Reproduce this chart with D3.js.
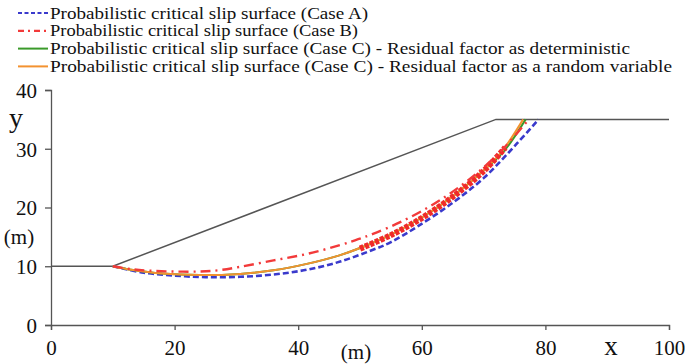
<!DOCTYPE html>
<html>
<head>
<meta charset="utf-8">
<script src="https://cdn.jsdelivr.net/npm/d3@7"></script>
<style>
  body { margin: 0; background: #fff; }
  .serif { font-family: "Times New Roman", Tinos, "Liberation Serif", "DejaVu Serif", serif; }
</style>
</head>
<body>
<div id="chart"></div>
<script>
// slope geometry (x, y in m)
var ground = [[0, 10], [10, 10], [72, 35], [100, 35]];

// critical slip surfaces
var caseA = [[10, 10], [15, 8.9], [20, 8.4], [25, 8.15], [30.6, 8.2], [36, 8.6], [41.4, 9.4], [46.8, 10.8],
             [52.1, 12.8], [55, 14.1], [59.2, 16.7], [64.6, 20.5], [70, 25.0], [75.4, 30.9], [78.9, 35]];
var caseB = [[10, 10], [13, 9.5], [16, 9.25], [20, 9.1], [24, 9.1], [27, 9.3], [30.6, 9.9], [36, 11.0],
             [41.4, 12.1], [46.8, 13.6], [49.7, 14.6], [52.1, 15.5], [56.5, 17.5], [61, 20.0], [65, 22.7],
             [69, 25.9], [73, 29.8], [77.3, 35]];
var caseCdet = [[10, 10], [13, 9.4], [18, 8.75], [24, 8.5], [30.6, 8.7], [36, 9.3], [41.4, 10.4], [46.8, 11.9],
                [50, 13.1], [55, 15.4], [60, 18.3], [65, 21.9], [70, 26.3], [73.3, 29.6], [76.8, 35]];
var caseCrand = [[10, 10], [13, 9.4], [18, 8.75], [24, 8.5], [30.6, 8.7], [36, 9.3], [41.4, 10.4], [46.8, 11.9],
                 [50, 13.1], [55, 15.4], [60, 18.3], [65, 21.9], [70, 26.3], [73, 29.6], [76.4, 35]];
// thick red trace over the lower part of case C
var caseBtrace = [[50, 13.0], [55, 15.3], [60, 18.2], [65, 21.8], [70, 26.2], [73.5, 30.2]];

var xTicks = [0, 20, 40, 60, 80, 100];
var yTicks = [0, 10, 20, 30, 40];

var legendLabels = [
  "Probabilistic critical slip surface (Case A)",
  "Probabilistic critical slip surface (Case B)",
  "Probabilistic critical slip surface (Case C) - Residual factor as deterministic",
  "Probabilistic critical slip surface (Case C) - Residual factor as a random variable"
];

var width = 685, height = 364;
var x = d3.scaleLinear().domain([0, 100]).range([51, 669]);
var y = d3.scaleLinear().domain([0, 40]).range([325, 90]);

var svg = d3.select("#chart").append("svg")
    .attr("width", width).attr("height", height);

var axisColor = "#555";

// axes
var xAxis = svg.append("g")
    .attr("transform", "translate(0," + y(0) + ")")
    .call(d3.axisBottom(x).tickValues(xTicks).tickSize(5).tickPadding(10));
var yAxis = svg.append("g")
    .attr("transform", "translate(" + x(0) + ",0)")
    .call(d3.axisLeft(y).tickValues(yTicks).tickSize(6).tickPadding(8));
[xAxis, yAxis].forEach(function(a) {
  a.attr("font-family", null).attr("font-size", null);
  a.select(".domain").attr("stroke", axisColor).attr("stroke-width", 1.3);
  a.selectAll(".tick line").attr("stroke", axisColor).attr("stroke-width", 1.3);
  a.selectAll(".tick text").attr("class", "serif").style("font-size", "21px").attr("fill", "#111");
});
yAxis.selectAll(".tick text").attr("dy", "0.35em");

// axis titles
function title(tx, ty, size, str) {
  svg.append("text").attr("class", "serif").attr("x", tx).attr("y", ty).attr("text-anchor", "middle")
      .style("font-size", size).attr("fill", "#111").text(str);
}
title(16, 127, "28px", "y");
title(19, 244, "21px", "(m)");
title(356, 359, "21px", "(m)");
title(611, 355, "27px", "x");

var line = d3.line()
    .x(function(d) { return x(d[0]); })
    .y(function(d) { return y(d[1]); });
var curve = d3.line()
    .curve(d3.curveCatmullRom)
    .x(function(d) { return x(d[0]); })
    .y(function(d) { return y(d[1]); });

// slope profile
svg.append("path").attr("d", line(ground))
    .attr("fill", "none").attr("stroke", "#555").attr("stroke-width", 1.5);

svg.append("path").attr("d", curve(caseA))
    .attr("fill", "none").attr("stroke", "#3a3acc").attr("stroke-width", 2.6)
    .attr("stroke-dasharray", "6,3");
svg.append("path").attr("d", curve(caseCdet))
    .attr("fill", "none").attr("stroke", "#3a9a2a").attr("stroke-width", 2);
svg.append("path").attr("d", curve(caseCrand))
    .attr("fill", "none").attr("stroke", "#f39230").attr("stroke-width", 2);
svg.append("path").attr("d", curve(caseBtrace))
    .attr("fill", "none").attr("stroke", "#f02a2a").attr("stroke-width", 6)
    .attr("stroke-dasharray", "4,1.5");
svg.append("path").attr("d", curve(caseB))
    .attr("fill", "none").attr("stroke", "#f23a3a").attr("stroke-width", 2.4)
    .attr("stroke-dasharray", "10,5,2,5");

// legend
var legendStyles = [
  { color: "#3a3acc", dash: "4,2.5", w: 2.2 },
  { color: "#f23a3a", dash: "6,4,2,4", w: 2.2 },
  { color: "#3a9a2a", dash: null, w: 2 },
  { color: "#f39230", dash: null, w: 2 }
];
var legendEnds = [368, 358, 630, 672];
var legend = svg.append("g");
legendLabels.forEach(function(lbl, i) {
  var ly = 13 + i * 17.8;
  var s = legendStyles[i];
  legend.append("line")
      .attr("x1", 18).attr("x2", 48).attr("y1", ly).attr("y2", ly)
      .attr("stroke", s.color).attr("stroke-width", s.w)
      .attr("stroke-dasharray", s.dash);
  legend.append("text")
      .attr("class", "serif")
      .attr("x", 50).attr("y", ly).attr("dy", "0.33em")
      .style("font-size", "17px")
      .attr("fill", "#111")
      .attr("textLength", legendEnds[i] - 50)
      .attr("lengthAdjust", "spacingAndGlyphs")
      .text(lbl);
});
</script>
</body>
</html>
